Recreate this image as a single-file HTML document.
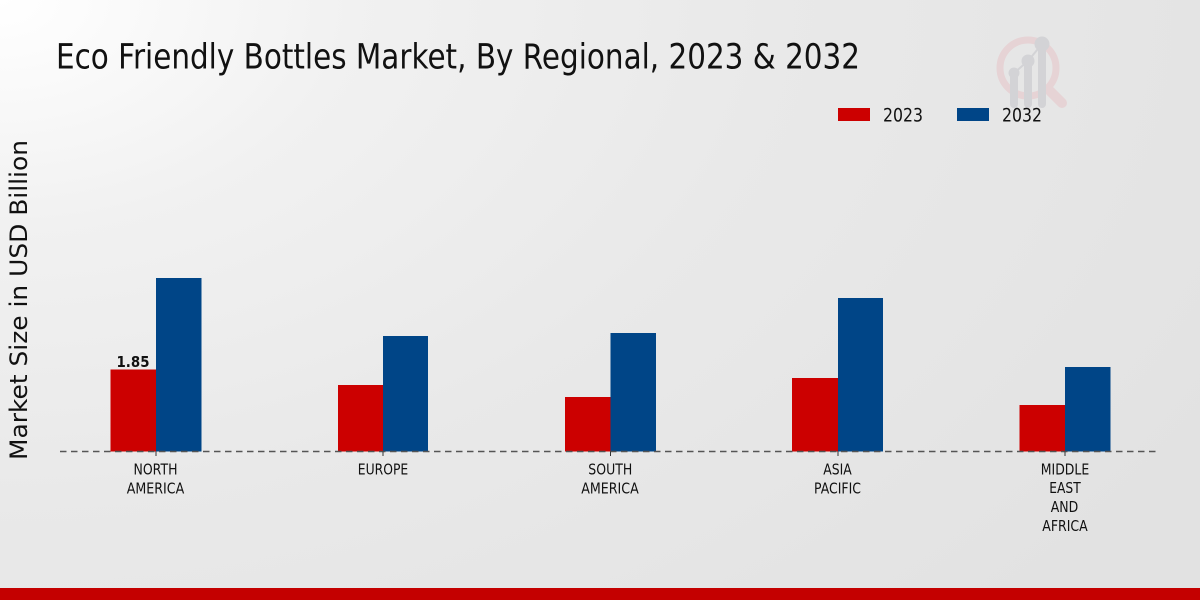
<!DOCTYPE html>
<html>
<head>
<meta charset="utf-8">
<style>
  html, body { margin: 0; padding: 0; }
  body { width: 1200px; height: 600px; overflow: hidden; }
  .bg {
    position: absolute; left: 0; top: 0; width: 1200px; height: 600px;
    background: radial-gradient(ellipse 1400px 900px at 0px 0px, #ffffff 0%, #f1f1f1 25%, #e9e9e9 55%, #e2e2e2 100%);
  }
  svg { position: absolute; left: 0; top: 0; }
  text { font-family: "DejaVu Sans", "Liberation Sans", sans-serif; fill: #111; }
</style>
</head>
<body>
<div class="bg"></div>
<svg width="1200" height="600" viewBox="0 0 1200 600" xmlns="http://www.w3.org/2000/svg">
  <!-- watermark logo -->
  <g opacity="1">
    <circle cx="1028" cy="68" r="28" fill="none" stroke="#e6d3d5" stroke-width="7"/>
    <line x1="1050" y1="91" x2="1062" y2="103" stroke="#e6d3d5" stroke-width="10" stroke-linecap="round"/>
    <line x1="1014" y1="73" x2="1014" y2="104" stroke="#d3d3d6" stroke-width="8" stroke-linecap="round"/>
    <line x1="1028" y1="61" x2="1028" y2="104" stroke="#d3d3d6" stroke-width="8" stroke-linecap="round"/>
    <line x1="1042" y1="44" x2="1042" y2="104" stroke="#d3d3d6" stroke-width="8" stroke-linecap="round"/>
    <line x1="1014" y1="73" x2="1028" y2="61" stroke="#d3d3d6" stroke-width="2"/>
    <line x1="1028" y1="61" x2="1042" y2="44" stroke="#d3d3d6" stroke-width="2"/>
    <circle cx="1014" cy="73" r="5.5" fill="#d3d3d6"/>
    <circle cx="1028" cy="61" r="6.5" fill="#d3d3d6"/>
    <circle cx="1042" cy="44" r="7.5" fill="#d3d3d6"/>
  </g>

  <!-- title -->
  <text x="56" y="68.5" font-size="35" textLength="804" lengthAdjust="spacingAndGlyphs">Eco Friendly Bottles Market, By Regional, 2023 &amp; 2032</text>

  <!-- legend -->
  <rect x="838" y="108" width="32" height="13" fill="#cc0000"/>
  <text x="883" y="121.5" font-size="19" textLength="40" lengthAdjust="spacingAndGlyphs">2023</text>
  <rect x="957" y="108" width="32" height="13" fill="#004587"/>
  <text x="1002" y="121.5" font-size="19" textLength="40" lengthAdjust="spacingAndGlyphs">2032</text>

  <!-- y axis label -->
  <text transform="translate(27,300) rotate(-90)" x="0" y="0" font-size="24" text-anchor="middle" textLength="320" lengthAdjust="spacingAndGlyphs">Market Size in USD Billion</text>

  <!-- bars -->
  <g>
    <rect x="110.5" y="369.5" width="45.5" height="82" fill="#cc0000"/>
    <rect x="156" y="278" width="45.5" height="173.5" fill="#004587"/>

    <rect x="338" y="385" width="45" height="66.5" fill="#cc0000"/>
    <rect x="383" y="336" width="45" height="115.5" fill="#004587"/>

    <rect x="565" y="397" width="45.5" height="54.5" fill="#cc0000"/>
    <rect x="610.5" y="333" width="45.5" height="118.5" fill="#004587"/>

    <rect x="792" y="378" width="46" height="73.5" fill="#cc0000"/>
    <rect x="838" y="298" width="45" height="153.5" fill="#004587"/>

    <rect x="1019.5" y="405" width="45.5" height="46.5" fill="#cc0000"/>
    <rect x="1065" y="367" width="45.5" height="84.5" fill="#004587"/>
  </g>

  <!-- value label -->
  <text x="116.5" y="367" font-size="15" font-weight="bold" textLength="33" lengthAdjust="spacingAndGlyphs">1.85</text>

  <!-- baseline dashed -->
  <line x1="60" y1="451.5" x2="1158" y2="451.5" stroke="#555" stroke-width="1.4" stroke-dasharray="6.5,4.5"/>

  <!-- ticks -->
  <g stroke="#333" stroke-width="1">
    <line x1="156" y1="451.5" x2="156" y2="456"/>
    <line x1="383" y1="451.5" x2="383" y2="456"/>
    <line x1="610.5" y1="451.5" x2="610.5" y2="456"/>
    <line x1="838" y1="451.5" x2="838" y2="456"/>
    <line x1="1065" y1="451.5" x2="1065" y2="456"/>
  </g>

  <!-- tick labels -->
  <g font-size="15" text-anchor="middle">
    <text x="155.5" y="474.5" textLength="44" lengthAdjust="spacingAndGlyphs">NORTH</text>
    <text x="155.5" y="493.5" textLength="57.5" lengthAdjust="spacingAndGlyphs">AMERICA</text>

    <text x="383" y="474.5" textLength="50.5" lengthAdjust="spacingAndGlyphs">EUROPE</text>

    <text x="610.3" y="474.5" textLength="44" lengthAdjust="spacingAndGlyphs">SOUTH</text>
    <text x="610" y="493.5" textLength="57.5" lengthAdjust="spacingAndGlyphs">AMERICA</text>

    <text x="837.5" y="474.5" textLength="28.5" lengthAdjust="spacingAndGlyphs">ASIA</text>
    <text x="837.5" y="493.5" textLength="47" lengthAdjust="spacingAndGlyphs">PACIFIC</text>

    <text x="1065" y="474.5" textLength="48.5" lengthAdjust="spacingAndGlyphs">MIDDLE</text>
    <text x="1065" y="493" textLength="31.5" lengthAdjust="spacingAndGlyphs">EAST</text>
    <text x="1064.5" y="512" textLength="27.5" lengthAdjust="spacingAndGlyphs">AND</text>
    <text x="1065" y="531" textLength="45.5" lengthAdjust="spacingAndGlyphs">AFRICA</text>
  </g>

  <!-- bottom red bar -->
  <rect x="0" y="588" width="1200" height="12" fill="#c40000"/>
</svg>
</body>
</html>
